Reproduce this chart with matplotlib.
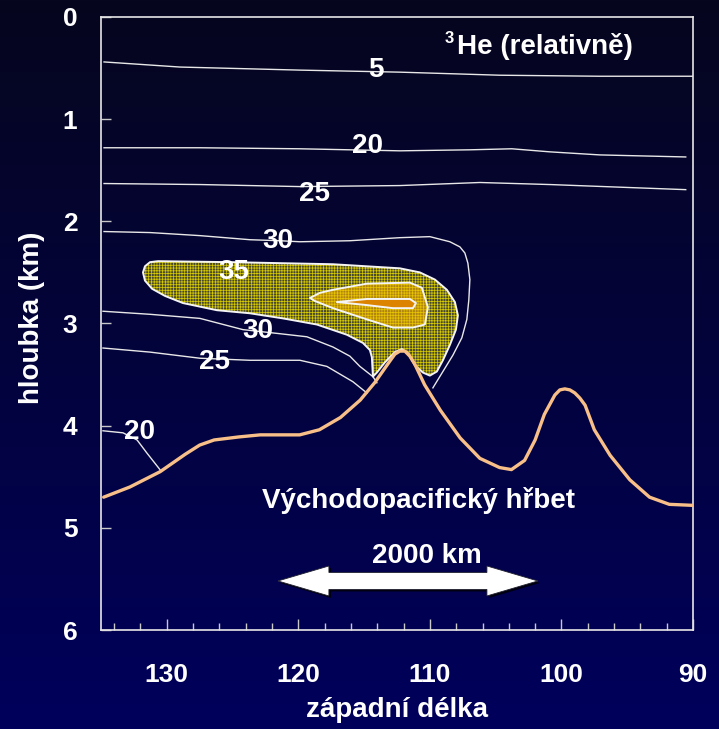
import numpy as np
import matplotlib
matplotlib.use("Agg")
import matplotlib.pyplot as plt
from matplotlib.patches import Polygon
import matplotlib.transforms as mtransforms

plt.rcParams['font.family'] = ['Liberation Sans', 'DejaVu Sans']
plt.rcParams['font.weight'] = 'bold'
plt.rcParams['hatch.linewidth'] = 0.5

# --- data (west longitude, depth km) ---
ridge_lon = [134.8, 132.8, 130.5, 128.6, 127.5, 126.4, 124.5, 122.9, 119.9, 118.4, 116.8, 115.3,
             114.2, 113.0, 112.66, 112.28, 111.90, 111.52, 111.14, 110.4, 109.2, 107.7, 106.2,
             104.7, 103.8, 102.8, 102.0, 101.3, 100.5, 100.12, 99.74, 99.36, 98.98, 98.6,
             98.2, 97.5, 96.3, 94.8, 93.3, 91.8, 90.0]
ridge_depth = [4.70, 4.60, 4.45, 4.28, 4.19, 4.14, 4.11, 4.09, 4.09, 4.04, 3.92, 3.75,
               3.58, 3.36, 3.30, 3.27, 3.27, 3.32, 3.40, 3.60, 3.85, 4.12, 4.32,
               4.41, 4.43, 4.34, 4.14, 3.89, 3.70, 3.65, 3.64, 3.65, 3.68, 3.73,
               3.80, 4.04, 4.29, 4.53, 4.70, 4.77, 4.78]

c5_lon = [134.77, 129.0, 119.88, 112.28, 104.68, 97.08, 90.0]
c5_depth = [0.44, 0.49, 0.52, 0.54, 0.57, 0.58, 0.58]

c20_lon = [134.77, 127.48, 119.88, 112.28, 106.96, 103.77, 100.88, 97.08, 90.55]
c20_depth = [1.28, 1.28, 1.29, 1.31, 1.30, 1.29, 1.32, 1.35, 1.37]

c25_lon = [134.77, 127.48, 119.88, 112.28, 106.2, 100.88, 90.55]
c25_depth = [1.63, 1.64, 1.66, 1.65, 1.62, 1.64, 1.69]

c30_lon = [134.77, 131.28, 127.48, 123.68, 121.40, 119.88, 116.08, 112.28, 110.0, 108.48,
           107.72, 107.34, 107.11, 106.96, 107.04, 107.19, 107.57, 108.25, 109.01, 109.77]
c30_depth = [2.10, 2.11, 2.14, 2.18, 2.19, 2.20, 2.19, 2.16, 2.15, 2.20,
             2.25, 2.31, 2.41, 2.57, 2.77, 2.96, 3.14, 3.31, 3.47, 3.63]

c30b_lon = [134.85, 131.28, 127.48, 124.21, 121.40, 119.35, 117.37, 116.08, 115.32, 114.33, 114.03]
c30b_depth = [2.88, 2.91, 2.95, 3.06, 3.10, 3.13, 3.23, 3.32, 3.42, 3.52, 3.58]

c25b_lon = [134.85, 131.28, 127.48, 123.68, 119.88, 117.83, 115.85, 114.79]
c25b_depth = [3.24, 3.28, 3.34, 3.36, 3.36, 3.42, 3.57, 3.68]

c20b_lon = [134.85, 133.33, 132.26, 131.50, 130.52]
c20b_depth = [4.05, 4.07, 4.14, 4.27, 4.43]

r35_lon = [130.67, 124.97, 117.37, 112.28, 110.76, 109.62, 108.71, 108.10, 107.87, 108.02,
           108.48, 109.01, 109.47, 110.0, 110.53, 111.14, 111.67, 112.13, 112.66, 113.42,
           114.03, 114.33, 114.41, 114.56, 115.09, 116.31, 118.59, 121.17, 123.68, 126.19,
           128.77, 130.14, 131.12, 131.66, 131.81, 131.66, 131.28]
r35_depth = [2.39, 2.40, 2.42, 2.46, 2.50, 2.57, 2.67, 2.79, 2.92, 3.06,
             3.21, 3.36, 3.47, 3.51, 3.48, 3.41, 3.29, 3.25, 3.28, 3.38,
             3.48, 3.52, 3.33, 3.26, 3.19, 3.11, 3.01, 2.95, 2.90, 2.87,
             2.80, 2.73, 2.66, 2.58, 2.50, 2.44, 2.40]

r40_lon = [119.12, 118.36, 117.37, 114.79, 111.52, 110.61, 110.15, 110.38, 111.29, 112.81,
           114.79, 117.37, 118.74]
r40_depth = [2.75, 2.70, 2.67, 2.61, 2.60, 2.65, 2.84, 3.01, 3.04, 3.04, 2.96, 2.85, 2.78]

r45_lon = [117.07, 114.79, 111.52, 111.06, 111.29, 112.81, 114.79]
r45_depth = [2.79, 2.76, 2.76, 2.80, 2.85, 2.85, 2.82]

label_text = ['5', '20', '25', '30', '35', '30', '25', '20']
label_lon = [114.10, 114.71, 118.74, 121.55, 124.89, 123.07, 126.34, 132.04]
label_depth = [0.52, 1.26, 1.73, 2.19, 2.50, 3.07, 3.38, 4.06]

xticks = [130, 120, 110, 100, 90]
xminor = [134, 132, 128, 126, 124, 122, 118, 116, 114, 112, 108, 106, 104, 102, 98, 96, 94, 92]
yticks = [0, 1, 2, 3, 4, 5, 6]

# --- figure ---
fig = plt.figure(figsize=(7.19, 7.29), dpi=100)

bg = fig.add_axes([0, 0, 1, 1], zorder=-5)
top = np.array([6, 6, 30]) / 255
bot = np.array([0, 0, 92]) / 255
t = np.linspace(0, 1, 256)[:, None]
grad = top[None, :] * (1 - t) + bot[None, :] * t
bg.imshow(grad[:, None, :].repeat(2, axis=1), aspect='auto', extent=[0, 1, 0, 1])
bg.axis('off')

ax = fig.add_axes([0.1405, 0.1358, 0.8233, 0.8409])
ax.patch.set_alpha(0)
ax.set_xlim(135, 90)
ax.set_ylim(6, 0)

# filled high-He region
ax.add_patch(Polygon(np.column_stack([r35_lon, r35_depth]), closed=True,
                     facecolor='#48482c', edgecolor='#d8cc00', hatch='++++++', lw=0, zorder=2))
ax.add_patch(Polygon(np.column_stack([r40_lon, r40_depth]), closed=True,
                     facecolor='#b08410', edgecolor='#e8c400', hatch='++++++', lw=0, zorder=3))
ax.add_patch(Polygon(np.column_stack([r45_lon, r45_depth]), closed=True,
                     facecolor='#dc8400', edgecolor='#f0a000', lw=0, zorder=4))
for lo, de in [(r35_lon, r35_depth), (r40_lon, r40_depth), (r45_lon, r45_depth)]:
    ax.add_patch(Polygon(np.column_stack([lo, de]), closed=True, fill=False,
                         edgecolor='#f4f4f4', lw=1.4, joinstyle='round', zorder=5))

# contour lines
for lo, de in [(c5_lon, c5_depth), (c20_lon, c20_depth), (c25_lon, c25_depth),
               (c30_lon, c30_depth), (c30b_lon, c30b_depth), (c25b_lon, c25b_depth),
               (c20b_lon, c20b_depth)]:
    ax.plot(lo, de, color='#e8e8e8', lw=1.0, solid_joinstyle='round', zorder=3)

# ridge
ax.plot(ridge_lon, ridge_depth, color='#f8c088', lw=2.4, zorder=6,
        solid_capstyle='round', solid_joinstyle='round')

for s, lo, de in zip(label_text, label_lon, label_depth):
    ax.text(lo, de, s, color='white', fontsize=20, fontweight='bold',
            ha='center', va='center', zorder=7)

ax.text(107.95, 0.29, 'He (relativně)', color='white', fontsize=20, fontweight='bold',
        ha='left', va='center', zorder=7)
ax.text(108.55, 0.21, '3', color='white', fontsize=12, fontweight='bold',
        ha='center', va='center', zorder=7)
ax.text(110.9, 4.73, 'Východopacifický hřbet', color='white', fontsize=20,
        fontweight='bold', ha='center', va='center', zorder=7)
ax.text(110.2, 5.28, '2000 km', color='white', fontsize=20, fontweight='bold',
        ha='center', va='center', zorder=7)

# double arrow (shape in inches around its centre)
arrow_shape = np.array([(-1.3, 0), (-0.79, 0.15), (-0.79, 0.085), (0.79, 0.085), (0.79, 0.15),
                        (1.3, 0), (0.79, -0.15), (0.79, -0.085), (-0.79, -0.085), (-0.79, -0.15)])
tr = fig.dpi_scale_trans + mtransforms.ScaledTranslation(111.67, 5.52, ax.transData)
sh = fig.dpi_scale_trans + mtransforms.ScaledTranslation(0.02, -0.02, fig.dpi_scale_trans) \
    + mtransforms.ScaledTranslation(111.67, 5.52, ax.transData)
ax.add_patch(Polygon(arrow_shape, closed=True, transform=sh, facecolor='#000010',
                     edgecolor='none', zorder=7))
ax.add_patch(Polygon(arrow_shape, closed=True, transform=tr, facecolor='white',
                     edgecolor='#202030', lw=0.6, zorder=8))

# axes styling
for sp in ax.spines.values():
    sp.set_color('#e6e6e6')
    sp.set_linewidth(1.2)
ax.set_xticks(xticks)
ax.set_xticks(xminor, minor=True)
ax.set_yticks(yticks)
ax.tick_params(axis='x', which='both', direction='in', colors='#c8c8c8', top=False,
               labelcolor='white', labelsize=19, pad=24)
ax.tick_params(axis='x', which='major', length=8, width=1.0)
ax.tick_params(axis='x', which='minor', length=5, width=1.0)
ax.tick_params(axis='y', which='major', direction='in', colors='#c8c8c8', right=False,
               labelcolor='white', labelsize=19, pad=17, length=7, width=1.0)
for lab in ax.get_xticklabels() + ax.get_yticklabels():
    lab.set_fontweight('bold')

fig.text(0.552, 0.026, 'západní délka', color='white', fontsize=20, fontweight='bold',
         ha='center', va='center')
fig.text(0.0445, 0.5638, 'hloubka (km)', color='white', fontsize=20, fontweight='bold',
         ha='center', va='center', rotation=90)

fig.savefig('out.png', dpi=100)
